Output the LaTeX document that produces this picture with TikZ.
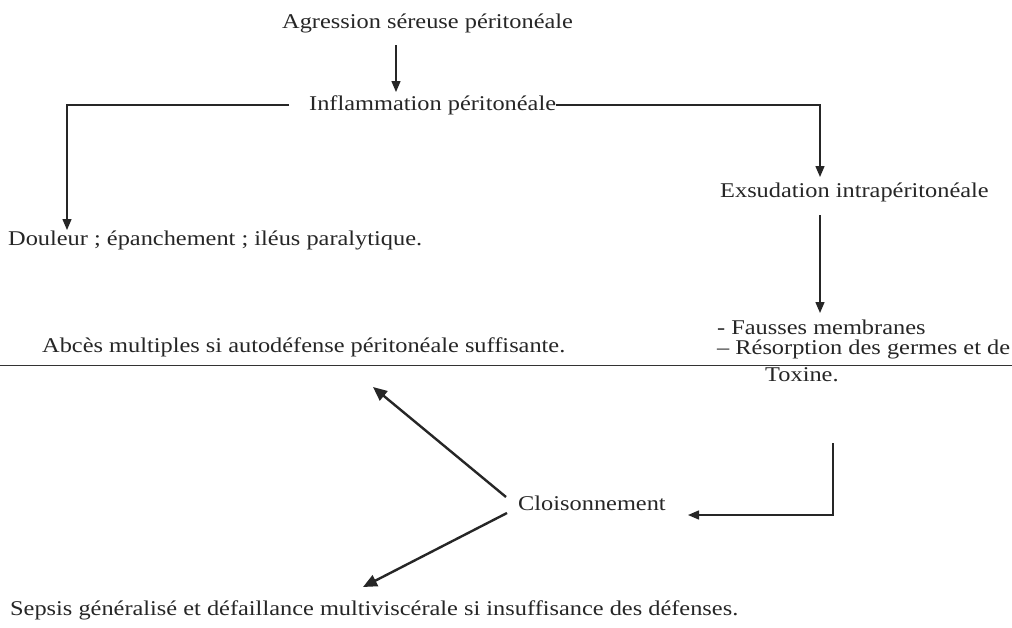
\documentclass[tikz,border=0pt]{standalone}
\usepackage{fontspec}
\setmainfont[FakeStretch=1.16]{Liberation Serif}
\usetikzlibrary{arrows.meta}
\begin{document}
\begin{tikzpicture}[x=1pt,y=-1pt,
  txt/.style={inner sep=0pt, anchor=base west, text=black!85, font=\fontsize{21}{20}\selectfont},
  link/.style={draw=black!85, line width=1.4pt, -{Triangle[length=11pt,width=9pt]}},
  diag/.style={draw=black!85, line width=2.4pt, -{Triangle[length=14pt,width=12pt]}}]
\useasboundingbox[fill=white] (0,0) rectangle (1012,627);
\node[txt] (agr) at (282,28) {Agression séreuse péritonéale};
\node[txt] (infl) at (309,110) {Inflammation péritonéale};
\node[txt] (doul) at (8,245) {Douleur ; épanchement ; iléus paralytique.};
\node[txt] (exs) at (720,197) {Exsudation intrapéritonéale};
\node[txt] (fm1) at (717,334) {- Fausses membranes};
\node[txt] (fm2) at (717,354) {– Résorption des germes et de};
\node[txt] (fm3) at (765,381) {Toxine.};
\node[txt] (abc) at (42,352) {Abcès multiples si autodéfense péritonéale suffisante.};
\node[txt] (cl) at (518,510) {Cloisonnement};
\node[txt] (sep) at (10,615) {Sepsis généralisé et défaillance multiviscérale si insuffisance des défenses.};
\draw[link] ([shift={(114,17)}]agr.base west) -- ([shift={(87,-18)}]infl.base west);
\draw[link] ([xshift=-20pt]infl.west) -| ([shift={(59,-15)}]doul.base west);
\draw[link] (infl.east) -| ([shift={(100,-20)}]exs.base west);
\draw[link] ([shift={(100,18)}]exs.base west) -- ([shift={(103,-21)}]fm1.base west);
\draw[link] ([shift={(68,62)}]fm3.base west) |- ([shift={(170,5)}]cl.base west);
\draw[diag] ([shift={(-12,-13)}]cl.base west) -- ([shift={(331,35)}]abc.base west);
\draw[diag] ([shift={(-11,3)}]cl.base west) -- ([shift={(353,-28)}]sep.base west);
\draw[draw=black!80, line width=1pt] (0,365) -- (1012,365);
\end{tikzpicture}
\end{document}
